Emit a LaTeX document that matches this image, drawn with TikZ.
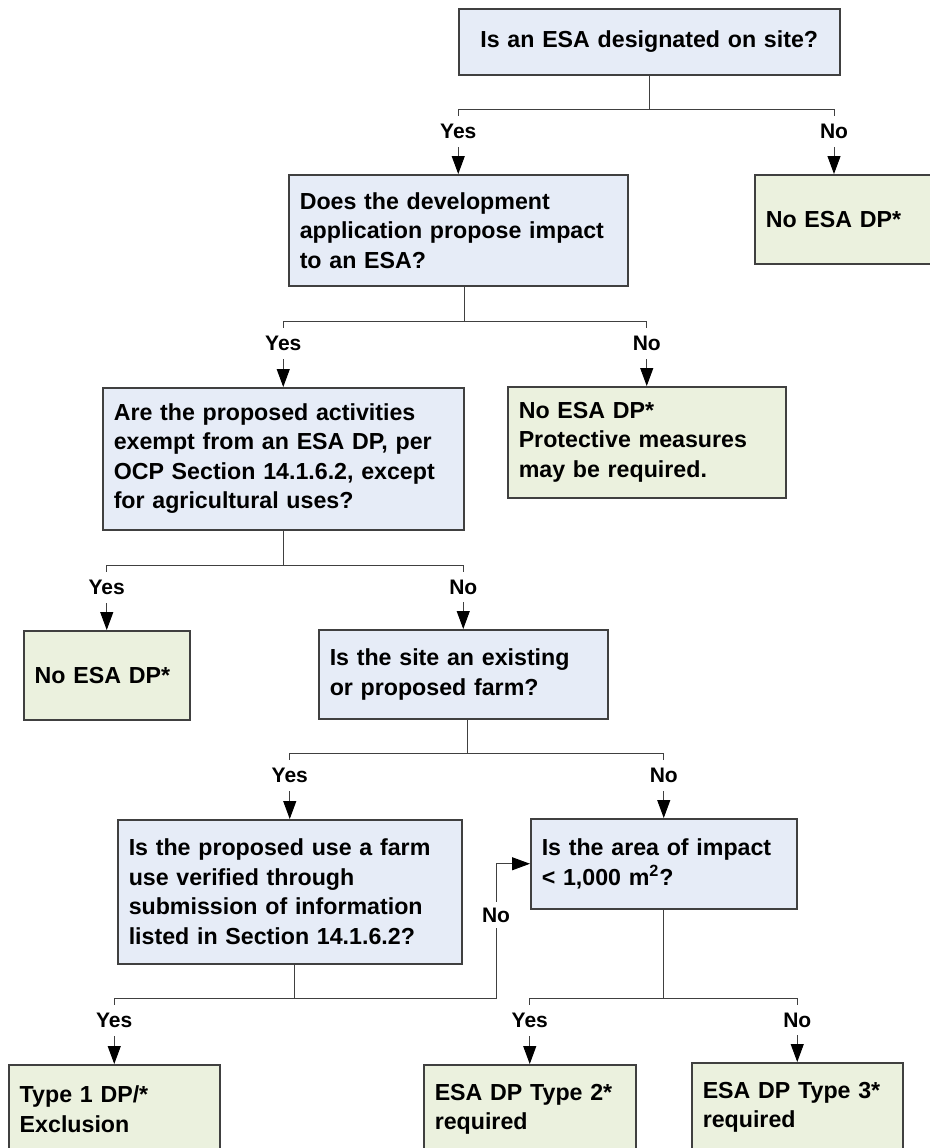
\documentclass[tikz,border=0pt]{standalone}
\usepackage{fontspec}
\setmainfont{Liberation Sans}
\usetikzlibrary{arrows.meta}
\definecolor{qblue}{HTML}{E6ECF7}
\definecolor{agreen}{HTML}{EBF1DE}
\definecolor{edgegray}{HTML}{404040}
\tikzset{
	question/.style={draw=edgegray, line width=0.75pt, fill=qblue, anchor=north west, align=left, inner xsep=5.5pt, inner ysep=0pt, font=\fontsize{11.6}{14.75}\selectfont\bfseries},
	answer/.style={question, fill=agreen},
	choice/.style={pos=0.67, fill=white, inner xsep=1pt, inner ysep=4pt, font=\fontsize{10.5}{12}\selectfont\bfseries},
	flow/.style={draw=edgegray, line width=0.5pt},
	tip/.style={flow, -{Triangle[length=9pt,width=6.5pt,black]}}
}
\begin{document}
\begin{tikzpicture}[x=0.5pt,y=-0.5pt]
		\useasboundingbox (0,0) rectangle (930,1148);
		\clip (0,0) rectangle (930,1148);
		%the boxes
		\node[question, align=center, text width=179.5pt, minimum height=33pt] (q1) at (458,8) {Is an ESA designated on site?};
		\node[question, text width=158.5pt, minimum height=55.5pt] (q2) at (288,174) {Does the development\\application propose impact\\to an ESA?};
		\node[answer, text width=89pt, minimum height=44.5pt] (e1) at (754,174) {No ESA DP*};
		\node[question, text width=169.5pt, minimum height=71pt] (q3) at (102,387) {Are the proposed activities\\exempt from an ESA DP, per\\OCP Section 14.1.6.2, except\\for agricultural uses?};
		\node[answer, text width=128pt, minimum height=55.5pt] (e2) at (507,386) {No ESA DP*\\Protective measures\\may be required.};
		\node[answer, text width=72pt, minimum height=44.5pt] (e3) at (23,630) {No ESA DP*};
		\node[question, text width=133.5pt, minimum height=44.5pt] (q4) at (318,629) {Is the site an existing\\or proposed farm?};
		\node[question, text width=161pt, minimum height=72pt] (q5) at (117,819) {Is the proposed use a farm\\use verified through\\submission of information\\listed in Section 14.1.6.2?};
		\node[question, text width=122pt, minimum height=45pt] (q6) at (530,818) {Is the area of impact\\< 1,000 m\textsuperscript{2}?};
		\node[answer, text width=94.5pt, minimum height=44.5pt] (e4) at (8,1064) {Type 1 DP/*\\Exclusion};
		\node[answer, text width=95pt, minimum height=44.5pt] (e5) at (423,1064) {ESA DP Type 2*\\required};
		\node[answer, text width=94.5pt, minimum height=44.5pt] (e6) at (691,1062) {ESA DP Type 3*\\required};
		%first question
		\draw[flow] (q1.south) -- ++(0,34) coordinate (b1);
		\draw[tip] (b1) -| node[choice]{Yes} (q2.north);
		\draw[tip] (b1) -| node[choice]{No} ([xshift=40pt]e1.north west);
		%second question
		\draw[flow] ([xshift=3pt]q2.south) -- ++(0,35) coordinate (b2);
		\draw[tip] (b2) -| node[choice]{Yes} (q3.north);
		\draw[tip] (b2) -| node[choice]{No} (e2.north);
		%third question
		\draw[flow] (q3.south) -- ++(0,35) coordinate (b3);
		\draw[tip] (b3) -| node[choice]{Yes} (e3.north);
		\draw[tip] (b3) -| node[choice]{No} (q4.north);
		%farm question
		\draw[flow] ([xshift=2pt]q4.south) -- ++(0,34) coordinate (b4);
		\draw[tip] (b4) -| node[choice]{Yes} (q5.north);
		\draw[tip] (b4) -| node[choice]{No} (q6.north);
		%farm use question
		\draw[flow] ([xshift=2.5pt]q5.south) -- ++(0,34) coordinate (b5);
		\draw[tip] (b5) -| node[choice]{Yes} (e4.north);
		\draw[tip] (b5) -| node[choice, pos=0.81, inner ysep=3pt]{No} ([xshift=-17pt]q6.west) -- (q6.west);
		%area question
		\draw[flow] (q6.south) -- ++(0,89) coordinate (b6);
		\draw[tip] (b6) -| node[choice]{Yes} (e5.north);
		\draw[tip] (b6) -| node[choice]{No} (e6.north);
	\end{tikzpicture}
\end{document}
